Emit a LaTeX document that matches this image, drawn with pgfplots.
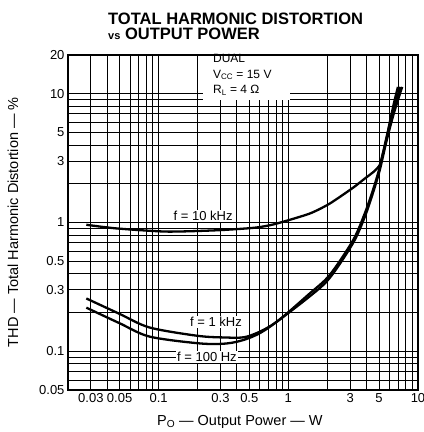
\documentclass[border=0pt]{standalone}
\usepackage{fontspec}
\setmainfont{Liberation Sans}
\usepackage{pgfplots}
\pgfplotsset{compat=1.18}

\begin{document}
\begin{tikzpicture}
\begin{axis}[
  scale only axis, width=350pt, height=335pt,
  xmode=log, ymode=log,
  xmin=0.02, xmax=10, ymin=0.05, ymax=20,
  xtick={0.03,0.05,0.1,0.3,0.5,1,3,5,10},
  xticklabels={0.03,0.05,0.1,0.3,0.5,1,3,5,10},
  minor xtick={0.04,0.06,0.07,0.08,0.09,0.2,0.4,0.6,0.7,0.8,0.9,2,4,6,7,8,9},
  ytick={0.05,0.1,0.3,0.5,1,3,5,10,20},
  yticklabels={0.05,0.1,0.3,0.5,1,3,5,10,20},
  minor ytick={0.06,0.07,0.08,0.09,0.2,0.4,0.6,0.7,0.8,0.9,2,4,6,7,8,9},
  grid=both,
  major grid style={black, line width=0.9pt},
  minor grid style={black, line width=0.5pt},
  major tick length=0pt, minor tick length=0pt,
  axis line style={black, line width=1.2pt},
  tick label style={font=\fontsize{13}{14}\selectfont},
  xlabel={P\textsubscript{O} — Output Power — W},
  ylabel={THD — Total Harmonic Distortion — \%},
  label style={font=\fontsize{14.5}{15}\selectfont},
  xlabel style={at={(rel axis cs:0.491,-0.0955)}, anchor=center},
  ylabel style={at={(rel axis cs:-0.157,0.501)}, anchor=center},
  clip=false,
]
% f = 10 kHz
\addplot[black, line width=2.3pt, smooth, tension=0.4] coordinates {
  (0.0277,0.96) (0.047,0.90) (0.115,0.85) (0.28,0.87) (0.545,0.91)
  (0.78,0.97) (1.45,1.17) (2.08,1.40) (3.15,1.86) (3.9,2.2)
  (4.6,2.5) (5.07,2.8) (5.35,3.4) (5.7,4.4) (6.1,6.2) (6.6,8.9) (7.0,11.3)
};
% f = 1 kHz
\addplot[black, line width=2.3pt, smooth, tension=0.5] coordinates {
  (0.0277,0.257) (0.05,0.195) (0.085,0.153) (0.197,0.132) (0.319,0.128)
  (0.481,0.130) (0.778,0.164) (1.45,0.279) (2.08,0.39) (3.15,0.725)
  (3.88,1.17) (4.48,1.77) (5.07,2.69) (5.72,4.6) (6.43,7.4) (7.3,11.3)
};
% f = 100 Hz
\addplot[black, line width=2.3pt, smooth, tension=0.5] coordinates {
  (0.0277,0.218) (0.05,0.165) (0.085,0.130) (0.208,0.115) (0.337,0.115)
  (0.481,0.125) (0.688,0.150) (1.45,0.265) (2.08,0.37) (3.15,0.69)
  (3.88,1.10) (4.48,1.68) (5.07,2.55) (5.72,4.3) (6.5,7.0) (7.55,11.3)
};

% condition box
\fill[white] (rel axis cs:0.386,0.996) rectangle (rel axis cs:0.634,0.866);
\node[anchor=base west, inner sep=0pt, font=\fontsize{12}{13}\selectfont]
  at (rel axis cs:0.414,0.979) {DUAL};
\node[anchor=base west, inner sep=0pt, font=\fontsize{12}{13}\selectfont]
  at (rel axis cs:0.414,0.931) {V\textsubscript{CC} = 15 V};
\node[anchor=base west, inner sep=0pt, font=\fontsize{12}{13}\selectfont]
  at (rel axis cs:0.414,0.884) {R\textsubscript{L} = 4 Ω};

% curve labels
\node[fill=white, inner sep=1pt, font=\fontsize{13}{14}\selectfont]
  at (rel axis cs:0.386,0.519) {f = 10 kHz};
\node[fill=white, inner sep=1pt, font=\fontsize{13}{14}\selectfont]
  at (rel axis cs:0.423,0.203) {f = 1 kHz};
\node[fill=white, inner sep=1pt, font=\fontsize{13}{14}\selectfont]
  at (rel axis cs:0.397,0.0985) {f = 100 Hz};

% title
\node[anchor=north west, align=left, inner sep=0pt,
  font=\bfseries\fontsize{16.5}{14}\selectfont]
  at (rel axis cs:0.1143,1.1254)
  {TOTAL HARMONIC DISTORTION\\[1pt]{\fontsize{11}{12}\selectfont vs} OUTPUT POWER};

\coordinate (bbl) at (rel axis cs:-0.1943,-0.1254);
\coordinate (btr) at (rel axis cs:1.0171,1.1642);
\end{axis}
\pgfresetboundingbox
\path (bbl) rectangle (btr);
\end{tikzpicture}
\end{document}
